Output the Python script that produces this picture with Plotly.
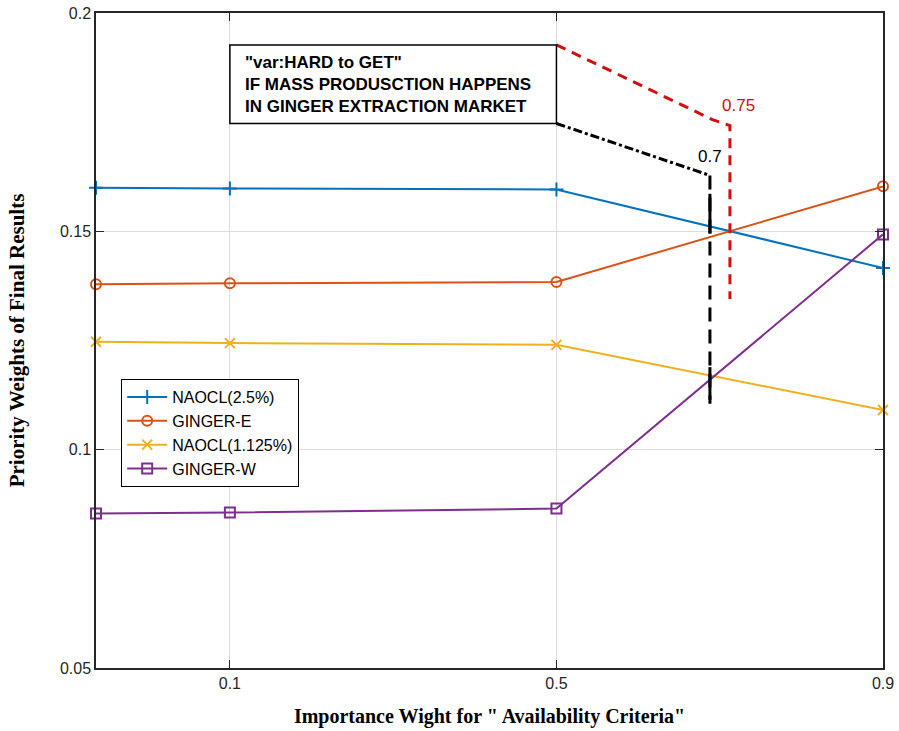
import plotly.graph_objects as go

# ---- data ----
x_values = [-0.064, 0.1, 0.5, 0.9]
naocl_25 = [0.1600, 0.1598, 0.1596, 0.1416]
ginger_e = [0.1379, 0.1381, 0.1384, 0.1603]
naocl_1125 = [0.1247, 0.1244, 0.1240, 0.1091]
ginger_w = [0.0854, 0.0856, 0.0865, 0.1493]

series_names = ["NAOCL(2.5%)", "GINGER-E", "NAOCL(1.125%)", "GINGER-W"]
series_values = [naocl_25, ginger_e, naocl_1125, ginger_w]
series_colors = ["#0072BD", "#D95319", "#EDB120", "#7E2F8E"]
series_symbols = ["cross-thin-open", "circle-open", "x-thin-open", "square-open"]

x_ticks = [0.1, 0.5, 0.9]
y_ticks = [0.05, 0.1, 0.15, 0.2]

# annotation geometry (data coordinates)
box_x = [0.1, 0.5]
box_y = [0.1747, 0.1927]
black_path_x = [0.5, 0.675, 0.688, 0.688]
black_path_y = [0.1747, 0.1637, 0.1628, 0.1105]
red_path_x = [0.5, 0.691, 0.7125, 0.7125]
red_path_y = [0.1927, 0.1756, 0.1742, 0.1345]

fig = go.Figure()

for name, vals, col, sym in zip(series_names, series_values, series_colors, series_symbols):
    fig.add_trace(go.Scatter(
        x=x_values, y=vals, name=name, mode="lines+markers",
        line=dict(color=col, width=2),
        marker=dict(symbol=sym, size=10, color=col, line=dict(color=col, width=2)),
        cliponaxis=False,
    ))

# black dash-dot sloped part
fig.add_trace(go.Scatter(
    x=black_path_x[:3], y=black_path_y[:3], mode="lines", showlegend=False,
    line=dict(color="black", width=3, dash="dashdot"), hoverinfo="skip"))
# black vertical part
fig.add_trace(go.Scatter(
    x=black_path_x[2:], y=black_path_y[2:], mode="lines", showlegend=False,
    line=dict(color="black", width=3, dash="14px,8px"), hoverinfo="skip"))
# thick solid segments on black vertical
for y0, y1 in [(0.1586, 0.1495), (0.1189, 0.1114)]:
    fig.add_trace(go.Scatter(
        x=[black_path_x[2], black_path_x[2]], y=[y0, y1], mode="lines", showlegend=False,
        line=dict(color="black", width=3), hoverinfo="skip"))
# red dashed path
fig.add_trace(go.Scatter(
    x=red_path_x, y=red_path_y, mode="lines", showlegend=False,
    line=dict(color="#D01010", width=3, dash="10px,7px"), hoverinfo="skip"))

fig.add_shape(type="rect", x0=box_x[0], x1=box_x[1], y0=box_y[0], y1=box_y[1],
              line=dict(color="black", width=1.5), fillcolor="white", layer="above")

fig.add_annotation(x=0.116, y=(box_y[0] + box_y[1]) / 2, xref="x", yref="y",
                   xanchor="left", yanchor="middle", align="left", showarrow=False,
                   text='"var:HARD to GET"<br>IF MASS PRODUSCTION HAPPENS<br>IN GINGER EXTRACTION MARKET',
                   font=dict(family="Arial, Liberation Sans", size=17, color="black", weight="bold"))
fig.add_annotation(x=0.688, y=0.1671, xref="x", yref="y", showarrow=False,
                   text="0.7", font=dict(family="Arial, Liberation Sans", size=17, color="black"))
fig.add_annotation(x=0.723, y=0.1788, xref="x", yref="y", showarrow=False,
                   text="0.75", font=dict(family="Arial, Liberation Sans", size=17, color="#D01010"))

axis_common = dict(showline=True, linecolor="#262626", linewidth=1.5, mirror="ticks",
                   ticks="inside", ticklen=8, tickcolor="#262626",
                   showgrid=True, gridcolor="#DCDCDC", gridwidth=1, zeroline=False,
                   automargin=False,
                   tickfont=dict(family="Arial, Liberation Sans", size=16, color="#262626"))

fig.update_xaxes(range=[-0.064, 0.9], tickvals=x_ticks, ticktext=[str(t) for t in x_ticks],
                 title=dict(text='Importance Wight for " Availability Criteria"',
                            font=dict(family="Liberation Serif, Times New Roman", size=20,
                                      color="black", weight="bold"), standoff=18),
                 **axis_common)
fig.update_yaxes(range=[0.05, 0.2], tickvals=y_ticks, ticktext=[str(t) for t in y_ticks],
                 title=dict(text="Priority Weights of Final Results",
                            font=dict(family="Liberation Serif, Times New Roman", size=21,
                                      color="black", weight="bold"), standoff=30),
                 **axis_common)

fig.update_layout(
    width=899, height=731,
    margin=dict(l=96, r=16, t=13, b=63, autoexpand=False),
    plot_bgcolor="white", paper_bgcolor="white",
    legend=dict(x=0.032, y=0.441, xanchor="left", yanchor="top",
                bordercolor="black", borderwidth=1, bgcolor="white",
                font=dict(family="Arial, Liberation Sans", size=16, color="black"),
                tracegroupgap=0, itemwidth=40),
    showlegend=True,
)

fig.write_html("out.html", config={"displayModeBar": False},
               post_script="document.body.style.margin='0px';")
